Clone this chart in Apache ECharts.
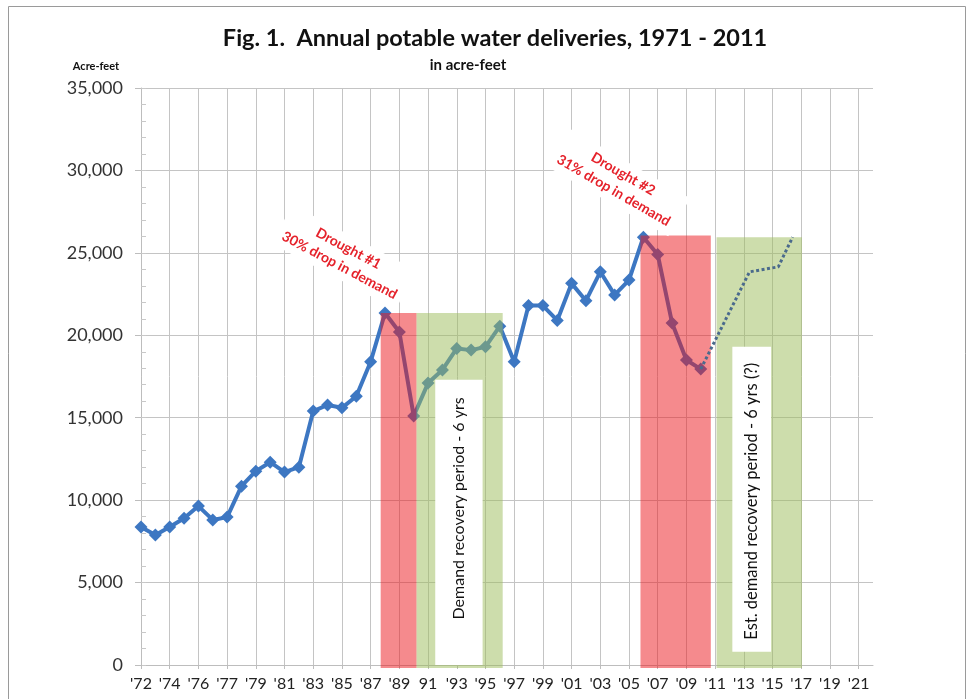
<!DOCTYPE html>
<html>
<head>
<meta charset="utf-8">
<script src="https://cdn.jsdelivr.net/npm/echarts@6/dist/echarts.min.js"></script>
<style>
  html, body { margin: 0; padding: 0; background: #ffffff; }
  #chart { width: 969px; height: 699px; }
</style>
</head>
<body>
<div id="chart"></div>
<script>
// Horizontal axis: one slot per year, a label on every other slot
const slotCount = 52;
const tickLabels = ["'72", "'74", "'76", "'77", "'79", "'81", "'83", "'85", "'87", "'89", "91", "'93", "'95",
  "'97", "'99", "'01", "'03", "'05", "'07", "'09", "'11", "'13", "'15", "'17", "'19", "'21"];

// Annual potable water deliveries (acre-feet), one value per slot from the first slot
const deliveries = [8370, 7880, 8370, 8900, 9640, 8800, 8970, 10850, 11760, 12300,
  11700, 12000, 15400, 15770, 15600, 16300, 18400, 21350, 20200, 15100,
  17100, 17900, 19200, 19100, 19300, 20550, 18400, 21800, 21800, 20900,
  23150, 22100, 23850, 22450, 23350, 25950, 24900, 20750, 18500, 17950];

// Estimated recovery path after the second drought
const projectionSlots = [39, 42.4, 44.4, 45.4];
const projectionValues = [17950, 23850, 24150, 25950];

// Drought periods: start slot, end slot, top (acre-feet)
const droughtStart = [16.7, 34.8];
const droughtEnd = [19.2, 39.7];
const droughtTop = [21350, 26050];

// Demand recovery periods: start slot, end slot, top (acre-feet)
const recoveryStart = [19.2, 40.1];
const recoveryEnd = [25.2, 46.05];
const recoveryTop = [21350, 25950];

// Captions for the recovery periods and the extent of their white boxes
const recoveryCaptions = ['Demand recovery period - 6 yrs', 'Est. demand recovery period - 6 yrs (?)'];
const captionStart = [20.5, 41.2];
const captionEnd = [23.8, 43.9];
const captionTop = [17300, 19300];
const captionBottom = [0, 800];

// Drought callouts, each tied to the peak slot before the drop
const droughtTitles = ['Drought #1', 'Drought #2'];
const droughtDrops = ['30% drop in demand', '31% drop in demand'];
const droughtPeakSlots = [17, 35];

// Layout of the callouts relative to their peak marker (pixels, degrees)
const calloutOffsets = [[-41, -56], [-25, -55]];
const calloutAngles = [28, 30];
// Caption text size and its vertical shift inside the white box (pixels)
const captionFontSizes = [16, 16.5];
const captionShift = [-14, 2];

const FONT = 'Lato, "Open Sans", sans-serif';
const BLUE = '#3D77C2';

const chart = echarts.init(document.getElementById('chart'), null, { renderer: 'canvas' });

const slots = [];
for (let i = 0; i < slotCount; i++) slots.push(String(i));

const deliveryPoints = deliveries.map((v, i) => [i, v]);
const projectionPoints = projectionSlots.map((s, i) => [s, projectionValues[i]]);
const droughtBands = droughtStart.map((s, i) => [s, droughtEnd[i], droughtTop[i], 0]);
const recoveryBands = recoveryStart.map((s, i) => [s, recoveryEnd[i], recoveryTop[i], 0]);
const captionBoxes = captionStart.map((s, i) => [s, captionEnd[i], captionTop[i], captionBottom[i]]);
const calloutPoints = droughtPeakSlots.map(s => [s, deliveries[s]]);

function bandRenderer(fill) {
  return function (params, api) {
    const p0 = api.coord([api.value(0), api.value(2)]);
    const p1 = api.coord([api.value(1), api.value(3)]);
    return {
      type: 'rect',
      shape: { x: p0[0], y: p0[1], width: p1[0] - p0[0], height: p1[1] - p0[1] + 3 },
      style: { fill: fill }
    };
  };
}

function renderCaption(params, api) {
  const i = params.dataIndex;
  const p0 = api.coord([api.value(0), api.value(2)]);
  const p1 = api.coord([api.value(1), api.value(3)]);
  return {
    type: 'group',
    children: [
      {
        type: 'rect',
        shape: { x: p0[0], y: p0[1], width: p1[0] - p0[0], height: p1[1] - p0[1] },
        style: { fill: '#ffffff' }
      },
      {
        type: 'text',
        x: (p0[0] + p1[0]) / 2,
        y: (p0[1] + p1[1]) / 2 + captionShift[i],
        rotation: Math.PI / 2,
        style: {
          text: recoveryCaptions[i],
          fill: '#111111',
          font: captionFontSizes[i] + 'px ' + FONT,
          align: 'center',
          verticalAlign: 'middle'
        }
      }
    ]
  };
}

function renderCallout(params, api) {
  const i = params.dataIndex;
  const p = api.coord([api.value(0), api.value(1)]);
  return {
    type: 'text',
    x: p[0] + calloutOffsets[i][0],
    y: p[1] + calloutOffsets[i][1],
    rotation: -calloutAngles[i] * Math.PI / 180,
    style: {
      text: droughtTitles[i] + '\n' + droughtDrops[i],
      fill: '#E5222B',
      font: 'bold 14px ' + FONT,
      lineHeight: 19,
      align: 'center',
      verticalAlign: 'middle',
      backgroundColor: '#ffffff',
      padding: [3, 6]
    }
  };
}

const option = {
  animation: false,
  backgroundColor: '#ffffff',
  title: [
    {
      text: 'Fig. 1.  Annual potable water deliveries, 1971 - 2011',
      left: 490, top: 21, textAlign: 'center',
      textStyle: { fontFamily: FONT, fontWeight: 'bold', fontSize: 23.5, color: '#111111' }
    },
    {
      text: 'in acre-feet',
      left: 463, top: 53, textAlign: 'center',
      textStyle: { fontFamily: FONT, fontWeight: 'bold', fontSize: 15, color: '#111111' }
    },
    {
      text: 'Acre-feet',
      left: 91, top: 56, textAlign: 'center',
      textStyle: { fontFamily: FONT, fontWeight: 'bold', fontSize: 11, color: '#111111' }
    }
  ],
  grid: { left: 141, right: 96, top: 88, bottom: 34, containLabel: false },
  xAxis: [
    {
      type: 'category',
      data: slots,
      boundaryGap: false,
      axisLine: { lineStyle: { color: '#BDBDBD', width: 1 } },
      axisTick: { interval: 1, length: 4, lineStyle: { color: '#BDBDBD' } },
      splitLine: { show: true, interval: 1, lineStyle: { color: '#C4C4C4', width: 1 } },
      axisLabel: {
        interval: 1,
        margin: 11,
        formatter: (v, i) => tickLabels[i / 2] || '',
        fontFamily: FONT, fontSize: 16, color: '#222222'
      }
    },
    { type: 'value', min: 0, max: slotCount - 1, show: false }
  ],
  yAxis: [
    {
      type: 'value',
      position: 'left',
      min: 0, max: 35000, interval: 5000,
      axisLine: { show: true, lineStyle: { color: '#BDBDBD' } },
      axisTick: { show: true, length: 6, lineStyle: { color: '#BDBDBD' } },
      splitLine: { show: true, lineStyle: { color: '#C4C4C4', width: 1 } },
      axisLabel: {
        margin: 18,
        formatter: v => v.toLocaleString('en-US'),
        fontFamily: FONT, fontSize: 18, color: '#333333'
      }
    },
    {
      type: 'value',
      position: 'left',
      offset: 0,
      min: 0, max: 35000, interval: 1000,
      axisLine: { show: false },
      axisTick: { show: true, inside: true, length: 5, lineStyle: { color: '#C8C8C8' } },
      splitLine: { show: false },
      axisLabel: { show: false }
    }
  ],
  series: [
    {
      name: 'Deliveries',
      type: 'line',
      xAxisIndex: 1, yAxisIndex: 0,
      data: deliveryPoints,
      symbol: 'diamond',
      symbolSize: 13,
      lineStyle: { color: BLUE, width: 4 },
      itemStyle: { color: BLUE },
      z: 2
    },
    {
      name: 'Drought',
      type: 'custom',
      xAxisIndex: 1, yAxisIndex: 0,
      data: droughtBands,
      renderItem: bandRenderer('rgba(236, 22, 28, 0.5)'),
      silent: true,
      clip: false,
      z: 3
    },
    {
      name: 'Recovery',
      type: 'custom',
      xAxisIndex: 1, yAxisIndex: 0,
      data: recoveryBands,
      renderItem: bandRenderer('rgba(155, 187, 89, 0.5)'),
      silent: true,
      clip: false,
      z: 3
    },
    {
      name: 'Projection',
      type: 'line',
      xAxisIndex: 1, yAxisIndex: 0,
      data: projectionPoints,
      symbol: 'none',
      lineStyle: { color: '#4A6A8C', width: 3, type: [3, 2.5] },
      z: 4
    },
    {
      name: 'Recovery captions',
      type: 'custom',
      xAxisIndex: 1, yAxisIndex: 0,
      data: captionBoxes,
      renderItem: renderCaption,
      silent: true,
      z: 4
    },
    {
      name: 'Drought callouts',
      type: 'custom',
      xAxisIndex: 1, yAxisIndex: 0,
      data: calloutPoints,
      renderItem: renderCallout,
      silent: true,
      clip: false,
      z: 5
    }
  ],
  graphic: [
    {
      type: 'rect',
      silent: true,
      shape: { x: 8.5, y: 6.5, width: 957, height: 720 },
      style: { fill: 'none', stroke: '#9A9A9A', lineWidth: 1 }
    }
  ]
};

chart.setOption(option);
</script>
</body>
</html>
